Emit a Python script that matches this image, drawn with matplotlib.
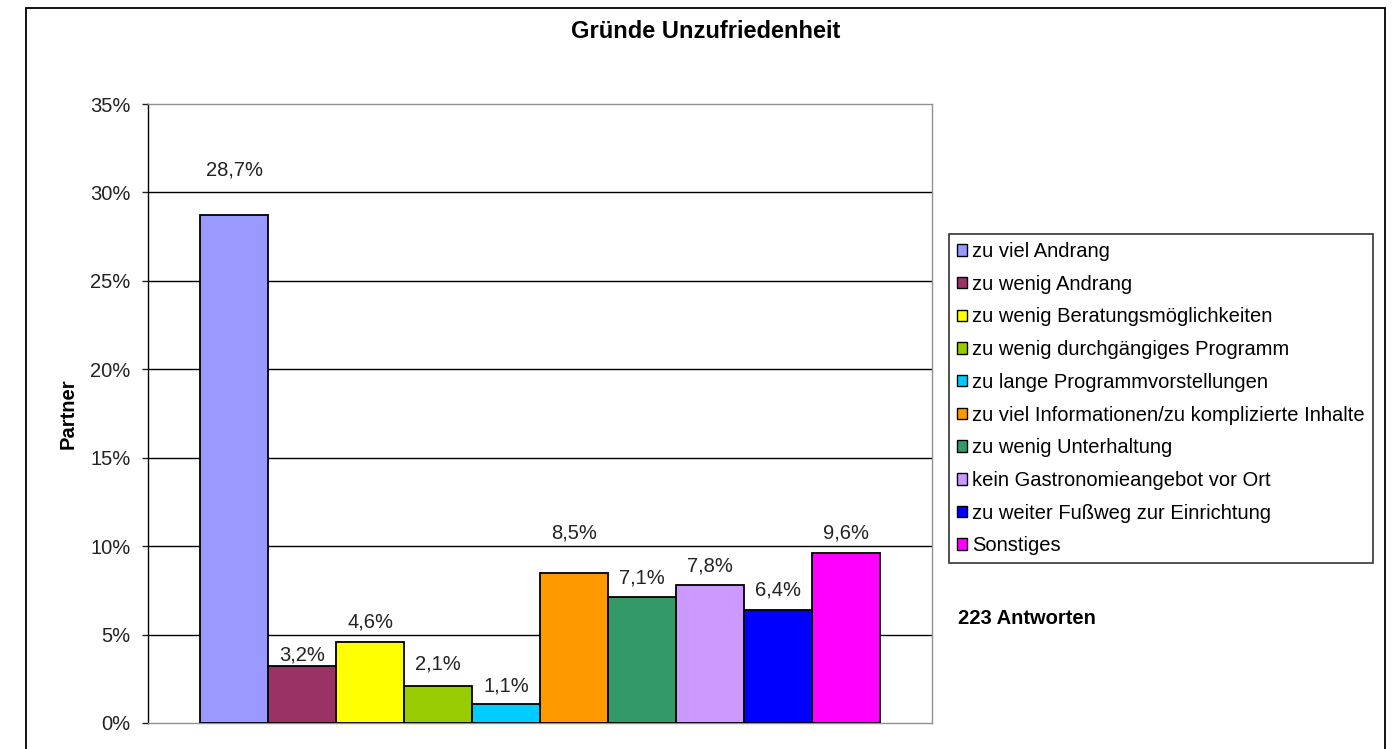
import matplotlib
matplotlib.use("Agg")
import matplotlib.pyplot as plt
from matplotlib.patches import Rectangle, Patch
from matplotlib.ticker import FuncFormatter

plt.rcParams['font.family'] = ['Liberation Sans', 'DejaVu Sans']

categories = [
    "zu viel Andrang",
    "zu wenig Andrang",
    "zu wenig Beratungsmöglichkeiten",
    "zu wenig durchgängiges Programm",
    "zu lange Programmvorstellungen",
    "zu viel Informationen/zu komplizierte Inhalte",
    "zu wenig Unterhaltung",
    "kein Gastronomieangebot vor Ort",
    "zu weiter Fußweg zur Einrichtung",
    "Sonstiges",
]
values = [28.7, 3.2, 4.6, 2.1, 1.1, 8.5, 7.1, 7.8, 6.4, 9.6]
labels = ["28,7%", "3,2%", "4,6%", "2,1%", "1,1%", "8,5%", "7,1%", "7,8%", "6,4%", "9,6%"]
colors = ["#9999FF", "#993366", "#FFFF00", "#99CC00", "#00CCFF",
          "#FF9900", "#339966", "#CC99FF", "#0000FF", "#FF00FF"]
yticks = [0, 5, 10, 15, 20, 25, 30, 35]
label_offsets_px = [45, 11, 20, 22, 18, 40, 19, 19, 20, 20]

FS = 14.5
W, H = 1396, 749
fig = plt.figure(figsize=(W / 100, H / 100), dpi=100)

# outer chart frame
fig.patches.append(Rectangle((26 / W, -0.1), (1385 - 26) / W, 1.1 - 8 / H,
                             transform=fig.transFigure, fill=False,
                             edgecolor="black", linewidth=1.3))

ax = fig.add_axes([148 / W, 1 - 723 / H, (932 - 148) / W, (723 - 104) / H])

x = list(range(len(values)))
ax.bar(x, values, width=1.0, color=colors, edgecolor="black", linewidth=1.3, zorder=3)

ax.set_xlim(-1.27, len(values) - 1 + 1.27)
ax.set_ylim(0, 35)
ax.set_yticks(yticks)
ax.yaxis.set_major_formatter(FuncFormatter(lambda v, p: f"{int(v)}%"))
ax.set_xticks([])
ax.tick_params(axis="y", direction="out", length=4.5, width=1, pad=8, labelsize=FS, colors="#222222")
for t in yticks[1:-1]:
    ax.axhline(t, color="black", linewidth=1, zorder=1)

ax.spines["left"].set_color("black")
ax.spines["left"].set_linewidth(1)
for s in ["top", "right", "bottom"]:
    ax.spines[s].set_color("#909090")
    ax.spines[s].set_linewidth(1)

for xi, v, lab, off in zip(x, values, labels, label_offsets_px):
    ax.annotate(lab, (xi, v), xytext=(0, off * 0.72), textcoords="offset points",
                ha="center", va="center", fontsize=FS, color="#222222")

ax.set_ylabel("Partner", fontsize=FS, fontweight="bold", va="center")
ax.yaxis.set_label_coords((68 - 148) / 784, 0.5)

fig.text(706 / W, 1 - 31 / H, "Gründe Unzufriedenheit", ha="center", va="center",
         fontsize=17, fontweight="bold")

handles = [Patch(facecolor=c, edgecolor="black", linewidth=1) for c in colors]
leg = fig.legend(handles, categories, loc="upper left",
                 bbox_to_anchor=(949 / W, 1 - 234 / H), fontsize=FS,
                 handlelength=0.5, handleheight=0.5, handletextpad=0.25,
                 labelspacing=0.68, borderpad=0.4, borderaxespad=0,
                 frameon=True, fancybox=False, shadow=False)
leg.get_frame().set_edgecolor("black")
leg.get_frame().set_linewidth(1.2)

fig.text(958 / W, 1 - 618 / H, "223 Antworten", ha="left", va="center",
         fontsize=FS, fontweight="bold")

fig.savefig("out.png", dpi=100)
